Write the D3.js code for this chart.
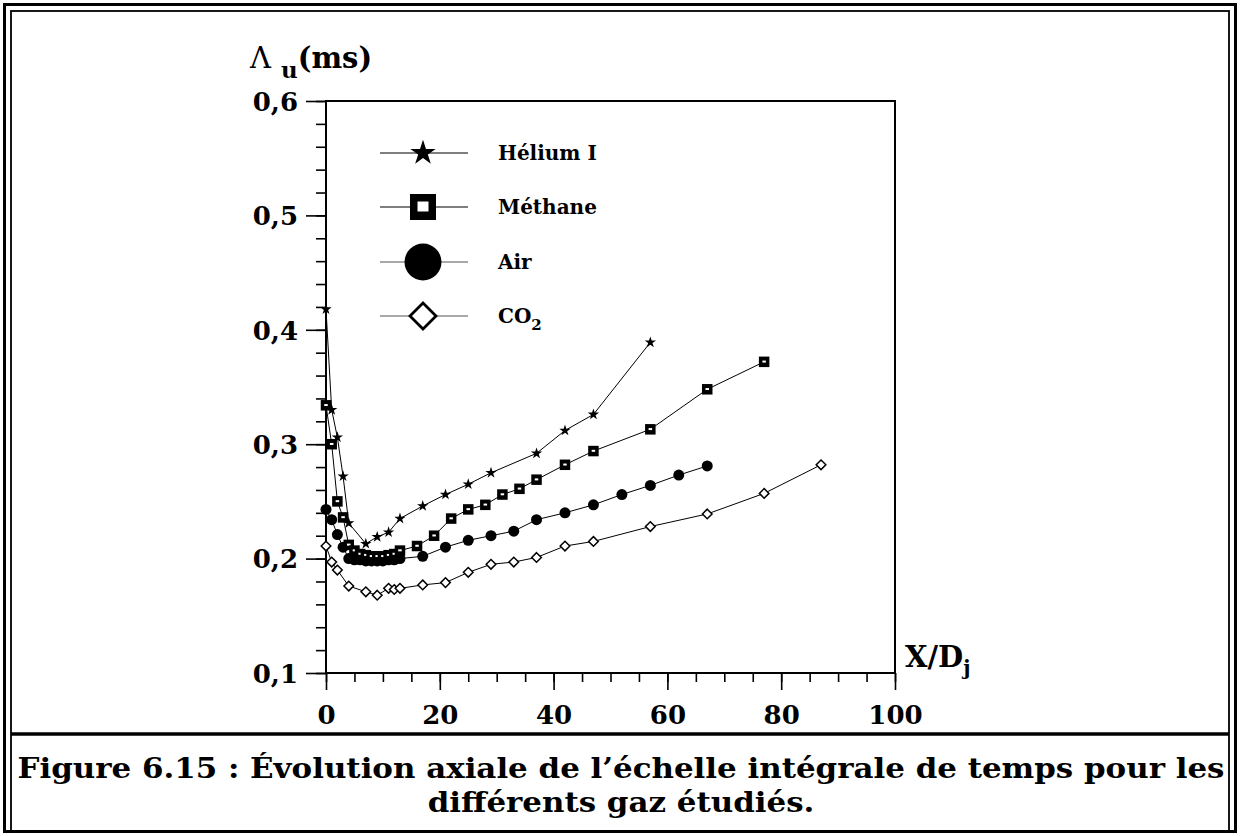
<!DOCTYPE html>
<html lang="fr">
<head>
<meta charset="UTF-8">
<title>Figure 6.15</title>
<script src="https://cdn.jsdelivr.net/npm/d3@7"></script>
<style>
  body { margin:0; background:#fff; }
  svg { display:block; }
  text { font-family: "DejaVu Serif", serif; font-weight: bold; fill:#000; }
</style>
</head>
<body>
<svg id="chart" width="1240" height="836"></svg>
<script>
// données
const heliumX  = [0, 1, 2, 3, 4, 7, 9, 11, 13, 17, 21, 25, 29, 37, 42, 47, 57];
const heliumY  = [0.418, 0.330, 0.306, 0.272, 0.231, 0.213, 0.219, 0.223, 0.235, 0.246, 0.256, 0.265, 0.275, 0.292, 0.312, 0.326, 0.389];
const methaneX = [0, 1, 2, 3, 4, 5, 6, 7, 8, 9, 10, 11, 12, 13, 16, 19, 22, 25, 28, 31, 34, 37, 42, 47, 57, 67, 77];
const methaneY = [0.334, 0.300, 0.250, 0.236, 0.212, 0.207, 0.204, 0.203, 0.202, 0.202, 0.202, 0.203, 0.204, 0.207, 0.211, 0.220, 0.235, 0.243, 0.247, 0.256, 0.261, 0.269, 0.282, 0.294, 0.313, 0.348, 0.372];
const airX     = [0, 1, 2, 3, 4, 5, 6, 7, 8, 9, 10, 11, 12, 13, 17, 21, 25, 29, 33, 37, 42, 47, 52, 57, 62, 67];
const airY     = [0.243, 0.234, 0.221, 0.210, 0.200, 0.199, 0.199, 0.198, 0.198, 0.198, 0.198, 0.199, 0.199, 0.200, 0.202, 0.210, 0.216, 0.220, 0.224, 0.234, 0.240, 0.247, 0.256, 0.264, 0.273, 0.281];
const co2X     = [0, 1, 2, 4, 7, 9, 11, 12, 13, 17, 21, 25, 29, 33, 37, 42, 47, 57, 67, 77, 87];
const co2Y     = [0.211, 0.197, 0.190, 0.176, 0.171, 0.168, 0.174, 0.173, 0.174, 0.177, 0.179, 0.188, 0.195, 0.197, 0.201, 0.211, 0.215, 0.228, 0.239, 0.257, 0.282];

const seriesNames = ["Hélium I", "Méthane", "Air", "CO2"];
const xTicks = [0, 20, 40, 60, 80, 100];
const yTicks = [0.1, 0.2, 0.3, 0.4, 0.5, 0.6];

const svg = d3.select("#chart");

// cadre double
svg.append("rect").attr("x", 4.5).attr("y", 4.5).attr("width", 1231).attr("height", 827)
  .attr("fill", "none").attr("stroke", "#000").attr("stroke-width", 3);
svg.append("rect").attr("x", 11).attr("y", 11).attr("width", 1218).attr("height", 820)
  .attr("fill", "none").attr("stroke", "#000").attr("stroke-width", 1.8);
svg.append("line").attr("x1", 11).attr("x2", 1229).attr("y1", 734).attr("y2", 734)
  .attr("stroke", "#000").attr("stroke-width", 3.5);

// échelles
const x = d3.scaleLinear().domain([0, 100]).range([326, 895]);
const y = d3.scaleLinear().domain([0.1, 0.6]).range([673, 101]);

const fmt = d => d3.format(".1f")(d).replace(".", ",");

// axe Y (graduations à gauche)
const yAxis = d3.axisLeft(y).tickValues(yTicks).tickSize(20).tickFormat(fmt).tickPadding(8);
const gy = svg.append("g").attr("transform", `translate(${x(0)},0)`).call(yAxis);
const yMinor = d3.axisLeft(y).tickValues(d3.range(0.1, 0.6001, 0.02)).tickSize(10).tickFormat("");
svg.append("g").attr("transform", `translate(${x(0)},0)`).call(yMinor);

// axe X (graduations vers le bas)
const xAxis = d3.axisBottom(x).tickValues(xTicks).tickSize(17).tickFormat(d3.format("d")).tickPadding(16);
const gx = svg.append("g").attr("transform", `translate(0,${y(0.1)})`).call(xAxis);
const xMinor = d3.axisBottom(x).tickValues(d3.range(0, 101, 5)).tickSize(9).tickFormat("");
svg.append("g").attr("transform", `translate(0,${y(0.1)})`).call(xMinor);

svg.selectAll(".domain").remove();
svg.selectAll(".tick line").attr("stroke", "#000").attr("stroke-width", 1.6);
svg.selectAll(".tick text").style("font-family", "DejaVu Serif").style("font-weight", "bold")
  .style("font-size", "26px").attr("fill", "#000");
gy.selectAll(".tick text").attr("dy", "0.36em");

// boîte du graphique
svg.append("path")
  .attr("d", `M${x(0)},${y(0.6)}H${x(100)}V${y(0.1)}H${x(0)}Z`)
  .attr("fill", "none").attr("stroke", "#000").attr("stroke-width", 2);

// titres des axes
const yt = svg.append("text").attr("x", 250).attr("y", 68).style("font-size", "29px");
yt.append("tspan").text("Λ").style("font-weight", "normal");
yt.append("tspan").text("u").attr("dx", 10).attr("dy", 10).style("font-size", "23px");
yt.append("tspan").text("(ms)").attr("dy", -10);

const xt = svg.append("text").attr("x", 905).attr("y", 667).style("font-size", "29px");
xt.append("tspan").text("X/D");
xt.append("tspan").text("j").attr("dy", 8).style("font-size", "20px");

// symboles
const star = d3.symbol().type(d3.symbolStar);
function drawMarker(g, kind, cx, cy, big) {
  if (kind === 0) {
    g.append("path").attr("d", star.size(big ? 200 : 40)())
      .attr("transform", `translate(${cx},${cy})`).attr("fill", "#000");
  } else if (kind === 1) {
    const s = big ? 26 : 10.5, w = big ? 11 : 3.5;
    g.append("rect").attr("x", cx - s / 2).attr("y", cy - s / 2).attr("width", s).attr("height", s).attr("fill", "#000");
    g.append("rect").attr("x", cx - w / 2).attr("y", cy - w / 2 + (big ? 0 : 0.5)).attr("width", w).attr("height", big ? w - 1 : w - 1.5).attr("fill", "#fff");
  } else if (kind === 2) {
    g.append("circle").attr("cx", cx).attr("cy", cy).attr("r", big ? 18.5 : 5.5).attr("fill", "#000");
  } else {
    const h = big ? 13 : 4.8;
    g.append("path").attr("d", `M${cx},${cy - h}L${cx + h},${cy}L${cx},${cy + h}L${cx - h},${cy}Z`)
      .attr("fill", "#fff").attr("stroke", "#000").attr("stroke-width", big ? 2.8 : 1.5);
  }
}

const data = [
  heliumX.map((d, i) => [d, heliumY[i]]),
  methaneX.map((d, i) => [d, methaneY[i]]),
  airX.map((d, i) => [d, airY[i]]),
  co2X.map((d, i) => [d, co2Y[i]])
];

const line = d3.line().x(d => x(d[0])).y(d => y(d[1]));
const plot = svg.append("g");
data.forEach(pts => {
  plot.append("path").attr("d", line(pts)).attr("fill", "none").attr("stroke", "#000").attr("stroke-width", 1);
});
[3, 2, 1, 0].forEach(k => {
  data[k].forEach(p => drawMarker(plot, k, x(p[0]), y(p[1]), false));
});

// légende
const legY = [153, 207, 262, 316];
const leg = svg.append("g");
seriesNames.forEach((name, i) => {
  leg.append("line").attr("x1", 380).attr("x2", 468).attr("y1", legY[i]).attr("y2", legY[i])
    .attr("stroke", i < 2 ? "#000" : "#555").attr("stroke-width", 1.2);
  drawMarker(leg, i, 423, legY[i], true);
  const t = leg.append("text").attr("x", 498).attr("y", legY[i] + 7).style("font-size", "20px");
  if (name === "CO2") {
    t.append("tspan").text("CO");
    t.append("tspan").text("2").attr("dy", 7).style("font-size", "15px");
  } else {
    t.text(name);
  }
});

// légende de la figure
const c1 = svg.append("text").attr("x", 621).attr("y", 778).attr("text-anchor", "middle")
  .style("font-size", "28px").text("Figure 6.15 : Évolution axiale de l’échelle intégrale de temps pour les");
const c2 = svg.append("text").attr("x", 621).attr("y", 812).attr("text-anchor", "middle")
  .style("font-size", "28px").text("différents gaz étudiés.");
const ratio = 1207 / c1.node().getComputedTextLength();
c1.attr("textLength", 1207).attr("lengthAdjust", "spacingAndGlyphs");
c2.attr("textLength", c2.node().getComputedTextLength() * ratio).attr("lengthAdjust", "spacingAndGlyphs");
</script>
</body>
</html>
